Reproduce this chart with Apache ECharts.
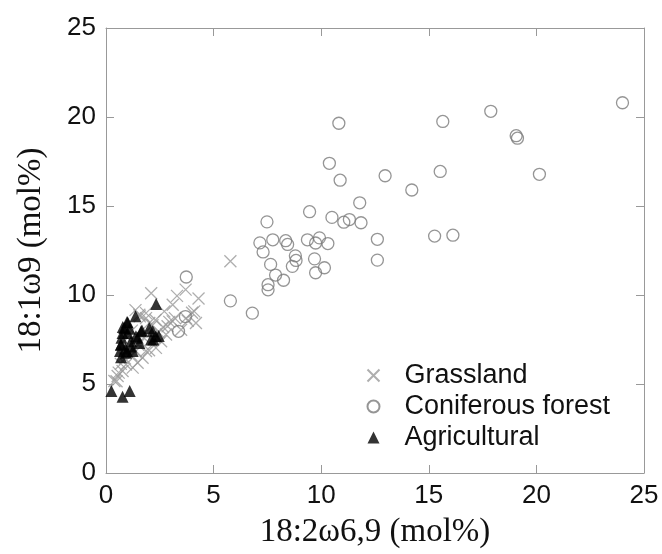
<!DOCTYPE html>
<html>
<head>
<meta charset="utf-8">
<script src="https://cdn.jsdelivr.net/npm/echarts@6/dist/echarts.min.js"></script>
<style>html,body{margin:0;padding:0;background:#fff;}#c{width:662px;height:554px;}</style>
</head>
<body>
<div id="c"></div>
<script>
const seriesNames = ['Grassland', 'Coniferous forest', 'Agricultural'];
const xTicks = [0, 5, 10, 15, 20, 25];
const yTicks = [0, 5, 10, 15, 20, 25];

const grassland = [
  [5.78,11.9],[2.1,10.1],[3.3,9.95],[3.7,10.3],[4.3,9.8],[4.0,9.0],[3.8,8.55],[3.2,8.7],
  [2.94,8.49],[2.65,8.2],[2.45,7.9],[2.0,6.9],[1.76,7.6],[1.57,8.8],[1.37,9.15],[1.86,8.7],
  [2.16,8.3],[0.59,5.64],[0.49,5.15],[0.69,6.13],[0.88,6.43],[1.18,6.62],[1.37,6.82],
  [1.86,8.98],[1.55,8.89],[2.71,9.08],[3.1,8.52],[3.49,8.05],[3.72,8.7],[4.1,9.08],
  [4.18,8.43],[2.79,7.78],[2.56,7.4],[2.32,7.03],[1.86,6.85],[1.7,6.47],[1.47,6.19],
  [1.24,5.92],[0.93,6.1],[0.77,5.73],[0.54,5.45],[0.39,5.17],[2.86,8.24],[2.01,8.43],
  [3.1,9.45],[1.2,8.0],[1.0,7.6],[1.5,7.2],[2.3,8.6]
];
const coniferous = [
  [24.0,20.8],[17.88,20.32],[15.65,19.75],[10.82,19.65],[19.06,18.95],[19.12,18.81],
  [10.38,17.4],[10.88,16.45],[12.97,16.7],[15.53,16.94],[20.14,16.78],[14.21,15.9],
  [11.79,15.18],[9.46,14.68],[7.48,14.11],[10.5,14.36],[11.05,14.09],[11.31,14.24],
  [11.85,14.06],[15.27,13.31],[16.12,13.36],[12.61,13.13],[12.61,11.96],[7.15,12.93],
  [7.75,13.1],[8.35,13.05],[8.44,12.84],[9.36,13.1],[9.92,13.21],[9.74,12.92],
  [10.31,12.89],[7.3,12.42],[8.8,12.2],[8.83,11.94],[8.66,11.61],[7.65,11.72],
  [9.69,12.03],[9.74,11.25],[10.15,11.53],[7.88,11.12],[8.25,10.83],[7.53,10.58],
  [7.53,10.29],[5.78,9.67],[6.8,8.98],[3.73,11.01],[3.69,8.79],[3.37,7.96]
];
const agricultural = [
  [2.33,9.5],[0.25,4.6],[0.77,4.28],[1.1,4.6],[1.37,8.8],[1.01,8.45],[0.85,8.15],
  [0.77,7.87],[0.72,7.6],[0.7,7.22],[0.65,6.85],[0.7,6.5],[1.01,7.87],[1.16,7.4],
  [1.39,7.68],[1.55,7.31],[1.63,7.96],[2.01,8.15],[2.17,7.96],[2.32,7.68],[2.09,7.5],
  [1.24,6.85],[0.93,6.75],[0.98,8.49],[0.78,8.2],[1.18,7.11],[0.98,6.82],[0.69,7.2],
  [1.47,7.6],[1.67,8.0],[2.2,7.5],[2.45,7.7],[1.1,8.1],[0.9,7.0]
];

const crossPath = 'path://M0,0L10,10M10,0L0,10';
const axisGray = '#999999';
const sans = '"Liberation Sans", Arial, sans-serif';
const serif = '"Liberation Serif", "Times New Roman", serif';

const chart = echarts.init(document.getElementById('c'));
function baseAxis(col) {
  return {
    type: 'value', min: 0, max: 25, interval: 5,
    axisLine: { show: true, onZero: false, lineStyle: { color: col, width: 1 } },
    axisTick: { show: true, inside: true, length: 8, lineStyle: { color: col, width: 1 } },
    splitLine: { show: false }
  };
}
chart.setOption({
  animation: false,
  backgroundColor: '#fff',
  grid: { left: 106, top: 28, right: 18, bottom: 78, containLabel: false },
  legend: {
    orient: 'vertical',
    left: 360, top: 357,
    itemWidth: 12, itemHeight: 12, itemGap: 4,
    data: seriesNames,
    textStyle: { fontFamily: sans, fontSize: 27, color: '#111', lineHeight: 27, padding: [0, 0, 0, 20] }
  },
  xAxis: [
    Object.assign(baseAxis(axisGray), {
      position: 'bottom',
      name: '18:2\u03c96,9 (mol%)', nameLocation: 'middle', nameGap: 43,
      nameTextStyle: { fontFamily: serif, fontSize: 33, color: '#111' },
      axisLabel: { margin: 10, fontFamily: sans, fontSize: 26, color: '#111',
        formatter: v => xTicks.includes(v) ? String(v) : '' }
    }),
    Object.assign(baseAxis(axisGray), { position: 'top', axisLabel: { show: false } })
  ],
  yAxis: [
    Object.assign(baseAxis(axisGray), {
      position: 'left',
      name: '18:1\u03c99 (mol%)', nameLocation: 'middle', nameGap: 58,
      nameTextStyle: { fontFamily: serif, fontSize: 33, color: '#111' },
      axisLabel: { margin: 10, fontFamily: sans, fontSize: 26, color: '#111',
        formatter: v => yTicks.includes(v) ? String(v) : '' }
    }),
    Object.assign(baseAxis(axisGray), { position: 'right', axisLabel: { show: false } })
  ],
  series: [
    {
      name: seriesNames[0], type: 'scatter', data: grassland,
      xAxisIndex: 0, yAxisIndex: 0,
      symbol: crossPath, symbolSize: 12,
      itemStyle: { color: 'none', borderColor: '#9a9a9a', borderWidth: 1.3 }
    },
    {
      name: seriesNames[1], type: 'scatter', data: coniferous,
      xAxisIndex: 1, yAxisIndex: 1,
      symbol: 'circle', symbolSize: 12,
      itemStyle: { color: 'rgba(255,255,255,0)', borderColor: '#7a7a7a', borderWidth: 1.3 }
    },
    {
      name: seriesNames[2], type: 'scatter', data: agricultural,
      xAxisIndex: 0, yAxisIndex: 0,
      symbol: 'triangle', symbolSize: 12,
      itemStyle: { color: '#000' }
    }
  ]
});
</script>
</body>
</html>
